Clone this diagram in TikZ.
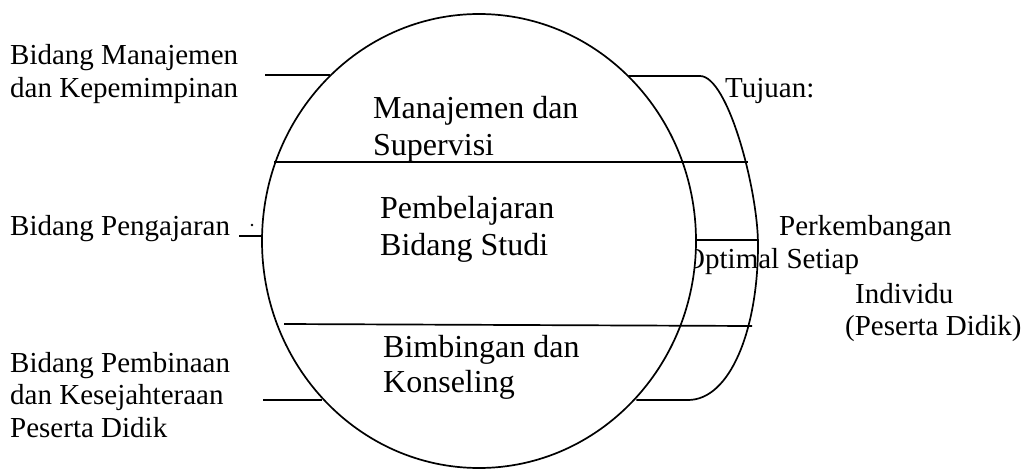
\documentclass[tikz,border=0pt]{standalone}
\usepackage{fontspec}
\setmainfont{Liberation Serif}
\usetikzlibrary{shapes.geometric}
\begin{document}
\begin{tikzpicture}[x=1pt,y=-1pt,
  ln/.style={line width=1.7pt, draw=black},
  outer/.style={anchor=base west, inner sep=0pt, font=\fontsize{29}{33}\selectfont},
  inner/.style={anchor=base west, inner sep=0pt, font=\fontsize{32}{37}\selectfont}]
\useasboundingbox (0,0) rectangle (1024,471);
% text partly hidden behind the circle
\node[outer] (t3) at (684,268) {Optimal Setiap};
% main circle
\node[ellipse, ln, fill=white, minimum width=434pt, minimum height=454pt, inner sep=0pt] (circ) at (479,241) {};
% left connectors
\coordinate (l1) at (265,75);
\draw[ln] (l1) -- (l1 -| circ.132);
\coordinate (l2) at (239,236);
\draw[ln] (l2) -- (l2 -| circ.179);
\coordinate (l3) at (263,400);
\draw[ln] (l3) -- (l3 -| circ.225);
\fill (252,225) circle (1.3);
% right bracket
\coordinate (ta) at (700,76);
\coordinate (bm) at (758,245);
\coordinate (ba) at (688,400);
\draw[ln] (ta -| circ.48) -- (ta) .. controls (728,76) and (758,190) .. (bm)
  .. controls (758,330) and (730,400) .. (ba) -- (ba -| circ.315);
% horizontal division lines
\coordinate (h1) at (748,162);
\draw[ln] (h1 -| circ.159) -- (h1);
\coordinate (h2a) at (284,324);
\coordinate (h2b) at (752,326);
\draw[ln] (h2a) -- (h2b);
\coordinate (h3) at (759,240);
\draw[ln] (h3 -| circ.east) -- (h3);
% left labels
\node[outer] (a1) at (10,64) {Bidang Manajemen};
\node[outer] (a2) at (10,97) {dan Kepemimpinan};
\node[outer] (b1) at (10,235) {Bidang Pengajaran};
\node[outer] (c1) at (10,372) {Bidang Pembinaan};
\node[outer] (c2) at (10,404) {dan Kesejahteraan};
\node[outer] (c3) at (10,437) {Peserta Didik};
% inner labels
\node[inner] (m1) at (373,118) {Manajemen dan};
\node[inner] (m2) at (373,155) {Supervisi};
\node[inner] (p1) at (380,218) {Pembelajaran};
\node[inner] (p2) at (380,255) {Bidang Studi};
\node[inner] (k1) at (383,357) {Bimbingan dan};
\node[inner] (k2) at (383,392) {Konseling};
% right labels
\node[outer] (t1) at (725,97) {Tujuan:};
\node[outer] (t2) at (779,235) {Perkembangan};
\node[outer] (t4) at (855,303) {Individu};
\node[outer] (t5) at (845,335) {(Peserta Didik)};
\end{tikzpicture}
\end{document}
